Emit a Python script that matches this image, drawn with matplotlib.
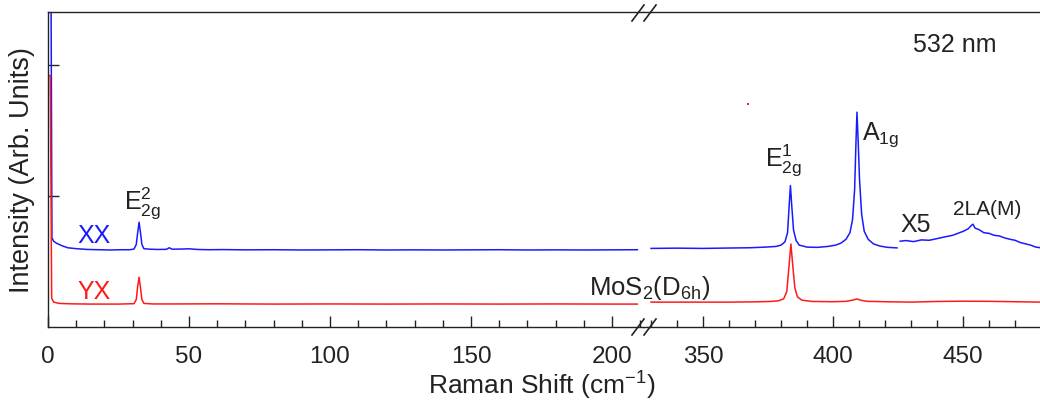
import matplotlib
matplotlib.use("Agg")
import matplotlib.pyplot as plt
from matplotlib.lines import Line2D

plt.rcParams['font.family'] = ['Liberation Sans', 'DejaVu Sans']
plt.rcParams['mathtext.fontset'] = 'custom'
plt.rcParams['mathtext.rm'] = 'Liberation Sans'

# --- data (Raman shift in cm-1, intensity in arb. units) ---
# XX polarisation, low-frequency window
xx_lo_x = [0.0, 1.0, 1.4, 2, 3, 5, 7, 10, 14, 18, 22, 26, 29, 30.5, 31.3, 31.8, 32.3, 32.8, 33.3,
           34, 36, 39, 42, 43, 44, 47, 50, 53, 57, 62, 70, 80, 90, 100, 110, 120, 130, 140,
           150, 160, 170, 180, 190, 200, 209]
xx_lo_y = [3.0, 3.0, 0.68, 0.655, 0.64, 0.62, 0.605, 0.598, 0.592, 0.59, 0.588, 0.59, 0.59, 0.595,
           0.63, 0.72, 0.80, 0.72, 0.63, 0.598, 0.594, 0.592, 0.593, 0.605, 0.594, 0.595, 0.597,
           0.592, 0.59, 0.591, 0.589, 0.59, 0.588, 0.589, 0.59, 0.588, 0.589, 0.588, 0.589, 0.59,
           0.588, 0.589, 0.588, 0.589, 0.59]
# YX polarisation, low-frequency window
yx_lo_x = [0.0, 0.8, 1.3, 2, 4, 8, 15, 25, 30.5, 31.3, 31.8, 32.3, 32.8, 33.3, 34, 37, 45, 60,
           80, 100, 120, 140, 160, 180, 200, 209]
yx_lo_y = [1.92, 1.92, 0.22, 0.19, 0.18, 0.177, 0.175, 0.175, 0.178, 0.21, 0.31, 0.38, 0.30, 0.21,
           0.18, 0.176, 0.176, 0.177, 0.175, 0.176, 0.175, 0.176, 0.175, 0.176, 0.175, 0.175]
# XX polarisation, high-frequency window
xx_hi_x = [330, 340, 350, 360, 368, 374, 378, 380, 381.5, 382.5, 383.1, 383.6, 384.1, 384.8,
           385.8, 387, 390, 394, 398, 401, 403, 405, 406.5, 407.5, 408.3, 408.8, 409.2, 409.6,
           410.2, 411, 412, 413.5, 415.5, 418, 421, 424.6]
xx_hi_y = [0.60, 0.602, 0.60, 0.603, 0.605, 0.61, 0.615, 0.625, 0.65, 0.72, 0.92, 1.08, 0.93,
           0.74, 0.66, 0.625, 0.61, 0.608, 0.615, 0.625, 0.64, 0.67, 0.72, 0.82, 1.05, 1.40, 1.64,
           1.45, 1.12, 0.86, 0.73, 0.67, 0.635, 0.618, 0.608, 0.604]
# XX 2LA(M) region, magnified x5
xx_x5_x = [425.8, 428, 431, 434, 437, 440, 443, 446, 448, 450, 452, 453.2, 453.8, 454.6, 456,
           458, 460, 462, 464, 466, 468, 470, 472, 474, 476, 478, 479.8]
xx_x5_y = [0.655, 0.66, 0.652, 0.665, 0.662, 0.675, 0.688, 0.70, 0.715, 0.73, 0.75, 0.775, 0.785,
           0.755, 0.745, 0.72, 0.715, 0.70, 0.695, 0.68, 0.67, 0.662, 0.645, 0.635, 0.625, 0.61,
           0.605]
# YX polarisation, high-frequency window
yx_hi_x = [330, 345, 360, 370, 376, 379, 381, 382.2, 383, 383.8, 384.5, 385.3, 386.3, 388, 392,
           400, 405, 407.5, 409.2, 410.8, 413, 420, 430, 440, 450, 460, 470, 479.8]
yx_hi_y = [0.19, 0.19, 0.19, 0.192, 0.195, 0.20, 0.215, 0.27, 0.45, 0.634, 0.47, 0.30, 0.23,
           0.205, 0.195, 0.193, 0.196, 0.205, 0.214, 0.204, 0.196, 0.193, 0.19, 0.195, 0.197,
           0.196, 0.193, 0.19]
stray_x = [367.3]
stray_y = [1.70]

lo_ticks = [0, 50, 100, 150, 200]
hi_ticks = [350, 400, 450]

blue = '#1a1aff'
red = '#ff1a1a'
ink = '#222222'
fs = 18

fig = plt.figure(figsize=(10.4, 4.06), dpi=100)
W, H = 1040.0, 406.0
left, brk, top, bot = 48 / W, 643 / W, 1 - 13 / H, 1 - 328 / H
ax1 = fig.add_axes([left, bot, brk - left, top - bot])
ax2 = fig.add_axes([brk, bot, 1.0 - brk, top - bot], sharey=ax1)

ax1.plot(xx_lo_x, xx_lo_y, color=blue, lw=1.1)
ax1.plot(yx_lo_x, yx_lo_y, color=red, lw=1.1)
ax2.plot(xx_hi_x, xx_hi_y, color=blue, lw=1.1)
ax2.plot(xx_x5_x, xx_x5_y, color=blue, lw=1.1)
ax2.plot(yx_hi_x, yx_hi_y, color=red, lw=1.1)
ax2.plot(stray_x, stray_y, 's', color=red, ms=1.5, mew=0)

ax1.set_xlim(0, 211)
ax2.set_xlim(326.9, 479.6)
ax1.set_ylim(0, 2.405)

ax1.set_xticks(lo_ticks)
ax1.set_xticks(range(0, 211, 10), minor=True)
ax2.set_xticks(hi_ticks)
ax2.set_xticks(range(330, 480, 10), minor=True)
ax1.set_yticks([1, 2])
ax1.set_yticklabels([])

for ax in (ax1, ax2):
    ax.tick_params(axis='x', which='major', direction='in', length=8, width=1, labelsize=17.5,
                   colors=ink, pad=13)
    ax.tick_params(axis='x', which='minor', direction='in', length=5, width=1, colors=ink)
    ax.tick_params(axis='y', which='both', direction='in', length=8, width=1, colors=ink)
    for s in ax.spines.values():
        s.set_linewidth(1.0)
        s.set_color(ink)
ax1.spines['right'].set_visible(False)
ax2.spines['left'].set_visible(False)
ax2.spines['right'].set_visible(False)
ax2.tick_params(axis='y', left=False, labelleft=False)

ax1.set_ylabel('Intensity (Arb. Units)', fontsize=19.5, color=ink, labelpad=6)
fig.text(542 / W, 1 - 385 / H, r'Raman Shift (cm$^{-1}$)', fontsize=19, color=ink,
         ha='center', va='center')

# peak labels
ax1.text(10.3, 0.70, 'XX', color=blue, fontsize=fs, va='center', ha='left')
ax1.text(10.3, 0.275, 'YX', color=red, fontsize=fs, va='center', ha='left')
ax1.text(33.5, 0.82, r'E$\mathregular{^2_{2g}}$', color=ink, fontsize=fs, ha='center', va='bottom')
ax2.text(380.8, 1.145, r'E$\mathregular{^1_{2g}}$', color=ink, fontsize=fs, ha='center', va='bottom')
ax2.text(411.2, 1.37, r'A$\mathregular{_{1g}}$', color=ink, fontsize=fs, ha='left', va='bottom')
ax2.text(425.8, 0.695, 'X5', color=ink, fontsize=fs, ha='left', va='bottom')
ax2.text(446.2, 0.83, '2LA(M)', color=ink, fontsize=15, ha='left', va='bottom')
ax2.text(447, 2.16, '532 nm', color=ink, fontsize=fs, ha='center', va='center')
fig.text(589 / W, 1 - 302 / H, r'MoS$\mathregular{_2}$(D$\mathregular{_{6h}}$)', color=ink,
         fontsize=18.5, ha='left', va='bottom')

# axis-break marks
for yb, (ya, yc) in ((top, (1 - 22 / H, 1 - 6 / H)), (bot, (1 - 336 / H, 1 - 320 / H))):
    for x0 in (632, 644):
        fig.add_artist(Line2D([x0 / W, (x0 + 12) / W], [ya, yc], color=ink, lw=1.2,
                              transform=fig.transFigure))

fig.savefig('out.png', dpi=100)
